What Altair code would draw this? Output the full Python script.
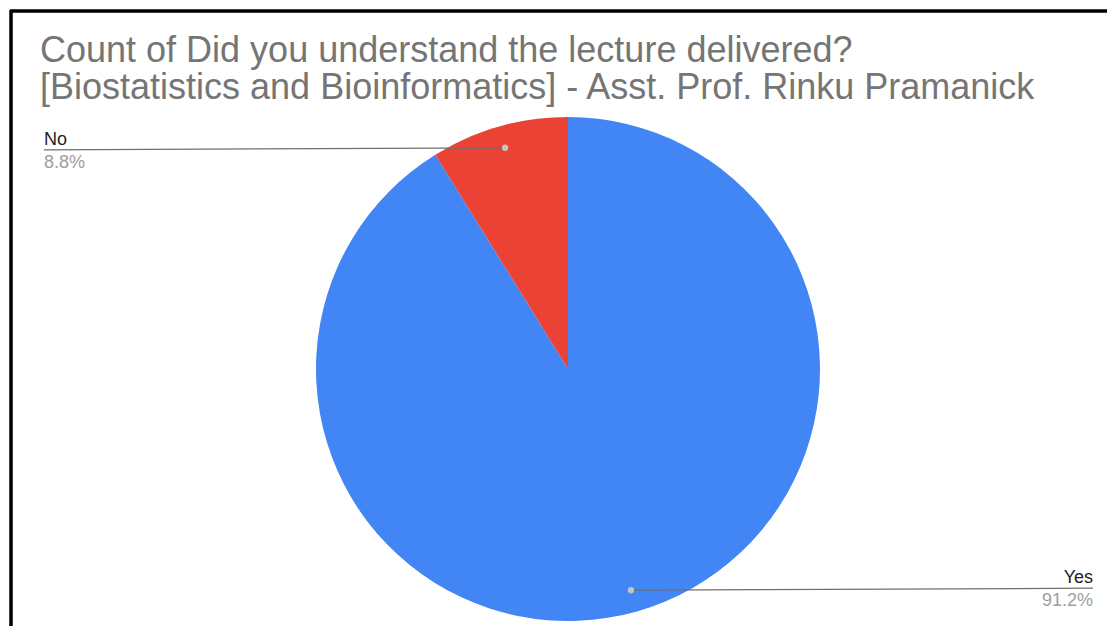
import altair as alt
import pandas as pd

# ---- data ----
answers = ["Yes", "No"]
counts = [31, 3]
order_idx = [0, 1]
colors = ["#4285F4", "#EA4335"]
title_lines = [
    "Count of Did you understand the lecture delivered?",
    "[Biostatistics and Bioinformatics] - Asst. Prof. Rinku Pramanick",
]

# ---- layout (pixels in chart space) ----
W, H = 1099, 618
CX, CY = 558, 359
R = 252
RD = 230
LEFT_X, RIGHT_X = 34, 1083
FONT = "Liberation Sans"

df = pd.DataFrame({"answer": answers, "count": counts, "ord": order_idx})
base = alt.Chart(df)

pie = base.mark_arc(radius=R).encode(
    theta=alt.Theta("count:Q", stack=True),
    color=alt.Color("answer:N", scale=alt.Scale(domain=answers, range=colors), legend=None),
    order=alt.Order("ord:Q"),
    x=alt.value(CX),
    y=alt.value(CY),
)

geo = (
    base.transform_joinaggregate(total="sum(count)")
    .transform_window(cum="sum(count)", sort=[alt.SortField("ord")], frame=[None, 0])
    .transform_calculate(pct="format(datum.count / datum.total, '.1%')")
    .transform_calculate(mid="2 * PI * (datum.cum - datum.count / 2) / datum.total")
    .transform_calculate(px=f"{CX} + {RD} * sin(datum.mid)")
    .transform_calculate(py=f"{CY} - {RD} * cos(datum.mid)")
    .transform_calculate(side="sin(datum.mid) >= 0 ? 'right' : 'left'")
    .transform_calculate(lx=f"datum.side == 'right' ? {RIGHT_X} : {LEFT_X}")
    .transform_calculate(ly="datum.side == 'right' ? datum.py - 2 : datum.py + 2")
)

X = lambda f: alt.X(f, scale=None, axis=None)
Y = lambda f: alt.Y(f, scale=None, axis=None)

leaders = geo.mark_rule(color="#6f6f6f", strokeWidth=1.3).encode(
    x=X("px:Q"), y=Y("py:Q"), x2="lx:Q", y2="ly:Q"
)
dots = geo.mark_circle(size=40, color="#c4c4c4", opacity=1).encode(x=X("px:Q"), y=Y("py:Q"))

layers = [pie, leaders, dots]
for side, align in (("left", "left"), ("right", "right")):
    sub = geo.transform_filter(f"datum.side == '{side}'")
    layers.append(
        sub.mark_text(align=align, baseline="alphabetic", dy=-5, font=FONT, fontSize=18, color="#222222").encode(
            x=X("lx:Q"), y=Y("ly:Q"), text="answer:N"
        )
    )
    layers.append(
        sub.mark_text(align=align, baseline="alphabetic", dy=18, font=FONT, fontSize=18, color="#9e9e9e").encode(
            x=X("lx:Q"), y=Y("ly:Q"), text="pct:N"
        )
    )

title_df = pd.DataFrame({"line": title_lines, "i": [0, 1]})
title = alt.Chart(title_df).mark_text(
    align="left", baseline="alphabetic", font=FONT, fontSize=36, color="#757575"
).encode(
    x=alt.value(30),
    y=alt.Y("ypos:Q", scale=None, axis=None),
    text="line:N",
).transform_calculate(ypos="52 + datum.i * 37")

border_top = alt.Chart(df).mark_rule(color="black", strokeWidth=3).encode(
    x=alt.value(0), x2=alt.value(W), y=alt.value(1)
)
border_left = alt.Chart(df).mark_rule(color="black", strokeWidth=3).encode(
    x=alt.value(1), y=alt.value(0), y2=alt.value(H)
)

chart = (
    alt.layer(*layers, title, border_top, border_left)
    .resolve_scale(x="independent", y="independent")
    .properties(width=W, height=H, padding=0, background="white",
                autosize=alt.AutoSizeParams(type="fit", contains="padding"))
    .configure_view(stroke=None)
)

chart.save("out.html", embed_options={"renderer": "svg", "actions": False})
